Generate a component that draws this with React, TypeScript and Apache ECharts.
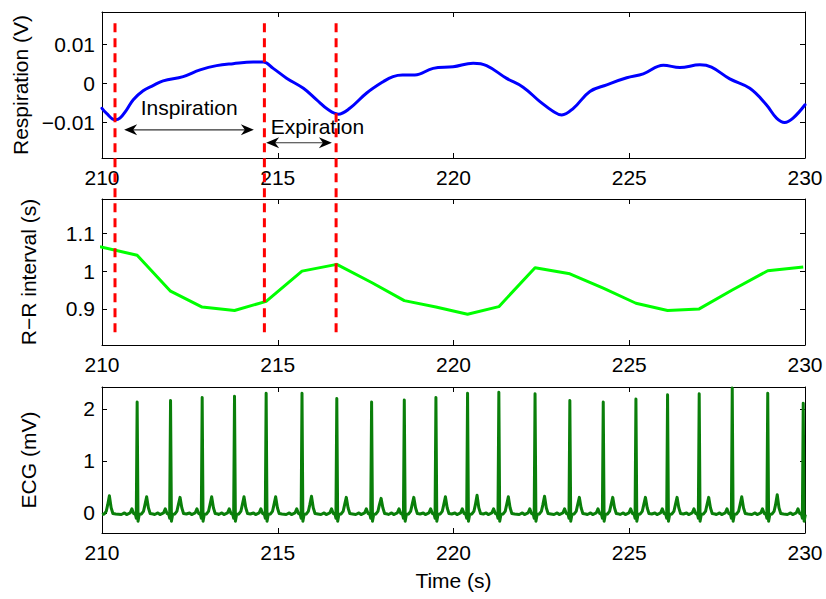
import { useEffect, useRef } from 'react';
import * as echarts from 'echarts';

// Respiration signal (V) sampled along the time axis (s)
const respTime = [210, 210.13, 210.37, 210.51, 210.7, 210.89, 211.17, 211.45, 211.74, 212.31, 212.79, 213.26, 213.73, 214.3, 214.59, 214.87, 215.25, 215.73, 216.1, 216.44, 216.72, 217.05, 217.53, 218.0, 218.28, 218.55, 218.9, 219.42, 219.99, 220.56, 220.94, 221.5, 221.98, 222.46, 222.84, 223.08, 223.41, 223.88, 224.36, 224.93, 225.4, 225.97, 226.44, 227.01, 227.34, 227.86, 228.43, 228.9, 229.19, 229.42, 229.66, 230];
const respValue = [-0.0064, -0.0077, -0.0093, -0.0089, -0.0068, -0.0042, -0.0019, -0.0006, 0.0006, 0.0017, 0.0034, 0.0045, 0.005, 0.0054, 0.0054, 0.0038, 0.0013, -0.0013, -0.0042, -0.0068, -0.0079, -0.0064, -0.0025, 0.0004, 0.0017, 0.0021, 0.0021, 0.0038, 0.0042, 0.0051, 0.0045, 0.0013, -0.001, -0.0047, -0.0072, -0.0081, -0.0064, -0.0021, -0.0004, 0.0014, 0.0024, 0.0046, 0.004, 0.0047, 0.0041, 0.0011, -0.0013, -0.0055, -0.0089, -0.01, -0.0089, -0.0055];

// R-peak times (s) and the R-R interval ending at each beat (s)
const beatTimes = [209.94, 211.0, 211.95, 212.85, 213.77, 214.67, 215.69, 216.68, 217.67, 218.6, 219.5, 220.4, 221.29, 222.32, 223.31, 224.26, 225.19, 226.09, 226.99, 227.93, 228.94, 229.95];
const rrInterval = [1.065, 1.042, 0.947, 0.905, 0.896, 0.92, 1.0, 1.018, 0.97, 0.922, 0.905, 0.886, 0.906, 1.009, 0.993, 0.955, 0.915, 0.896, 0.9, 0.95, 1.001, 1.011];

// ECG amplitudes (mV) of each beat's R peak and T wave
const rPeak = [2.2, 2.13, 2.16, 2.22, 2.24, 2.3, 2.3, 2.2, 2.13, 2.17, 2.22, 2.3, 2.32, 2.29, 2.16, 2.13, 2.19, 2.27, 2.29, 2.4, 2.3, 2.11];
const tPeak = [0.33, 0.31, 0.3, 0.31, 0.31, 0.31, 0.32, 0.3, 0.28, 0.3, 0.31, 0.34, 0.31, 0.32, 0.3, 0.3, 0.3, 0.3, 0.3, 0.31, 0.35, 0.3];

// One PQRST complex: offsets from the R peak (s) and levels (mV); R and T slots take per-beat amplitudes
const complexOffset = [-0.45, -0.36, -0.3, -0.2, -0.15, -0.1, -0.05, -0.025, 0, 0.025, 0.06, 0.12, 0.18, 0.22, 0.27, 0.32, 0.37, 0.45];
const complexLevel = [-0.03, 0.0, -0.03, 0.0, 0.08, -0.01, -0.03, -0.1, 0, -0.16, -0.03, -0.02, 0.03, 0.15, 0, 0.1, -0.01, -0.02];
const R_SLOT = 8;
const T_SLOT = 14;

// Breathing phase boundaries (s)
const phaseTimes = [210.37, 214.62, 216.66];

// Double-headed arrows and their captions, in respiration-panel coordinates
const arrowLabels = ['Inspiration', 'Expiration'];
const arrowStart = [210.63, 214.67];
const arrowEnd = [214.32, 216.54];
const arrowLevel = [-0.0119, -0.0152];
const labelTime = [212.48, 216.13];
const labelLevel = [-0.0063, -0.0111];

const xMin = 210;
const xMax = 230;
const xTicks = [210, 215, 220, 225, 230];
const respTicks = [-0.01, 0, 0.01];
const rrTicks = [0.9, 1, 1.1];
const ecgTicks = [0, 1, 2];

const FONT = 'Liberation Sans, Arial, Helvetica, sans-serif';
const FS = 21;

function fmt(v: number): string {
  const s = String(Math.abs(v));
  return v < 0 ? '\u2212' + s : s;
}

export default function App() {
  const ref = useRef<HTMLDivElement>(null);

  useEffect(() => {
    if (!ref.current) return;
    const chart = echarts.init(ref.current, undefined, { renderer: 'svg' });

    // ECG trace: one complex per beat, keeping only samples near the visible window
    const ecgData: number[][] = [];
    beatTimes.forEach((bt, i) => {
      complexOffset.forEach((off, k) => {
        let v = complexLevel[k];
        if (k === R_SLOT) v = rPeak[i];
        if (k === T_SLOT) v = tPeak[i];
        const t = bt + off;
        if (t >= xMin - 0.03 && t <= xMax + 0.03) ecgData.push([t, v]);
      });
    });

    const grids = [
      { left: 102, top: 12, width: 703, height: 146 },
      { left: 102, top: 199, width: 703, height: 146 },
      { left: 102, top: 387, width: 703, height: 146 },
    ];

    const lineStyle = { color: '#000', width: 1 };
    const tickStyle = { color: '#000', width: 1 };

    const xAxes: any[] = [];
    const yAxes: any[] = [];
    for (let g = 0; g < 3; g++) {
      xAxes.push({
        type: 'value', gridIndex: g, position: 'bottom', min: xMin, max: xMax, interval: 5,
        axisLine: { show: true, onZero: false, lineStyle },
        axisTick: { show: true, inside: true, length: 5, lineStyle: tickStyle, customValues: xTicks },
        axisLabel: { show: true, margin: 9, color: '#000', fontSize: FS, fontFamily: FONT, customValues: xTicks },
        splitLine: { show: false },
        ...(g === 2 ? {
          name: 'Time (s)', nameLocation: 'middle', nameGap: 37,
          nameTextStyle: { color: '#000', fontSize: FS, fontFamily: FONT },
        } : {}),
      });
    }
    for (let g = 0; g < 3; g++) {
      xAxes.push({
        type: 'value', gridIndex: g, position: 'top', min: xMin, max: xMax, interval: 5,
        axisLine: { show: true, onZero: false, lineStyle },
        axisTick: { show: true, inside: true, length: 5, lineStyle: tickStyle, customValues: xTicks },
        axisLabel: { show: false },
        splitLine: { show: false },
      });
    }
    const yCfg = [
      { min: -0.0191, max: 0.0182, ticks: respTicks, name: 'Respiration (V)', gap: 68 },
      { min: 0.8045, max: 1.191, ticks: rrTicks, name: 'R\u2212R interval (s)', gap: 63 },
      { min: -0.385, max: 2.42, ticks: ecgTicks, name: 'ECG (mV)', gap: 63 },
    ];
    yCfg.forEach((c, g) => {
      yAxes.push({
        type: 'value', gridIndex: g, position: 'left', min: c.min, max: c.max,
        axisLine: { show: true, onZero: false, lineStyle },
        axisTick: { show: true, inside: true, length: 5, lineStyle: tickStyle, customValues: c.ticks },
        axisLabel: { show: true, margin: 7, color: '#000', fontSize: FS, fontFamily: FONT, customValues: c.ticks, formatter: (v: number) => fmt(v) },
        splitLine: { show: false },
        name: c.name, nameLocation: 'middle', nameGap: c.gap,
        nameTextStyle: { color: '#000', fontSize: FS, fontFamily: FONT },
      });
    });
    yCfg.forEach((c, g) => {
      yAxes.push({
        type: 'value', gridIndex: g, position: 'right', min: c.min, max: c.max,
        axisLine: { show: true, onZero: false, lineStyle },
        axisTick: { show: true, inside: true, length: 5, lineStyle: tickStyle, customValues: c.ticks },
        axisLabel: { show: false },
        splitLine: { show: false },
      });
    });

    chart.setOption({
      animation: false,
      backgroundColor: '#fff',
      grid: grids,
      xAxis: xAxes,
      yAxis: yAxes,
      series: [
        {
          type: 'line', xAxisIndex: 0, yAxisIndex: 0, smooth: 0.4, symbol: 'none',
          data: respTime.map((t, i) => [t, respValue[i]]),
          lineStyle: { color: '#0000ff', width: 3, join: 'round', cap: 'round' },
        },
        {
          type: 'line', xAxisIndex: 1, yAxisIndex: 1, symbol: 'none',
          data: beatTimes.map((t, i) => [t, rrInterval[i]]),
          lineStyle: { color: '#00ff00', width: 3, join: 'round' },
        },
        {
          type: 'line', xAxisIndex: 2, yAxisIndex: 2, symbol: 'none',
          data: ecgData,
          lineStyle: { color: '#0a7f0a', width: 3, join: 'round' },
        },
      ],
    });

    const px = (t: number, v: number) =>
      chart.convertToPixel({ xAxisIndex: 0, yAxisIndex: 0 }, [t, v]) as number[];

    const graphics: any[] = [];
    const topY = chart.convertToPixel({ yAxisIndex: 0 }, 0.0153) as number;
    const botY = chart.convertToPixel({ yAxisIndex: 1 }, 0.829) as number;
    phaseTimes.forEach((t) => {
      const x = chart.convertToPixel({ xAxisIndex: 0 }, t) as number;
      graphics.push({
        type: 'line', z: 100,
        shape: { x1: x, y1: topY, x2: x, y2: botY },
        style: { stroke: '#ff0000', lineWidth: 3, lineDash: [9, 6] },
      });
    });

    const L = 13, W = 5.5, N = 4;
    arrowLabels.forEach((label, i) => {
      const a = px(arrowStart[i], arrowLevel[i]);
      const b = px(arrowEnd[i], arrowLevel[i]);
      graphics.push({
        type: 'line', z: 90,
        shape: { x1: a[0] + 4, y1: a[1], x2: b[0] - 4, y2: b[1] },
        style: { stroke: '#333', lineWidth: 1.2 },
      });
      graphics.push({
        type: 'polygon', z: 91,
        shape: { points: [[a[0], a[1]], [a[0] + L, a[1] - W], [a[0] + L - N, a[1]], [a[0] + L, a[1] + W]] },
        style: { fill: '#000' },
      });
      graphics.push({
        type: 'polygon', z: 91,
        shape: { points: [[b[0], b[1]], [b[0] - L, b[1] - W], [b[0] - L + N, b[1]], [b[0] - L, b[1] + W]] },
        style: { fill: '#000' },
      });
      const c = px(labelTime[i], labelLevel[i]);
      graphics.push({
        type: 'text', z: 92, x: c[0], y: c[1],
        style: { text: label, fill: '#000', font: `${FS}px ${FONT}`, align: 'center', verticalAlign: 'middle' },
      });
    });

    chart.setOption({ graphic: graphics });

    return () => chart.dispose();
  }, []);

  return (
    <div
      ref={ref}
      style={{ position: 'fixed', left: 0, top: 0, width: 826, height: 599, background: '#fff' }}
    />
  );
}
